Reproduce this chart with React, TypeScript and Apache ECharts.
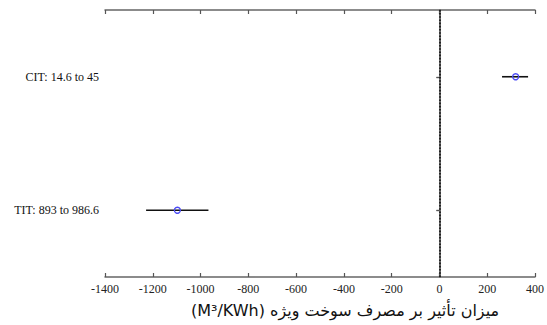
import React, { useEffect, useRef } from "react";
import * as echarts from "echarts";

const categories = ["TIT: 893 to 986.6", "CIT: 14.6 to 45"];
const effectValues = [-1097, 319];
const lowValues = [-1228, 262];
const highValues = [-967, 371];
const xMin = -1400;
const xMax = 400;
const xStep = 200;
const axisTitle = "میزان تأثیر بر مصرف سوخت ویژه (M³/KWh)";

export default function App() {
  const ref = useRef<HTMLDivElement>(null);
  useEffect(() => {
    if (!ref.current) return;
    const chart = echarts.init(ref.current, null, { renderer: "svg" });
    const serif = "Liberation Serif";
    const axisLine = { show: true, lineStyle: { color: "#666", width: 1.5 } };
    chart.setOption({
      animation: false,
      backgroundColor: "#fff",
      grid: { left: 105, right: 12, top: 10, bottom: 48, containLabel: false },
      xAxis: [
        {
          type: "value",
          min: xMin,
          max: xMax,
          interval: xStep,
          position: "bottom",
          axisLine,
          axisTick: { show: true, inside: true, length: 4, lineStyle: { color: "#555", width: 1.2 } },
          splitLine: { show: false },
          axisLabel: { color: "#222", fontFamily: serif, fontSize: 12, margin: 6, formatter: (v: number) => String(v) },
          name: "\u202B" + axisTitle + "\u202C",
          nameLocation: "middle",
          nameGap: 25,
          nameTextStyle: { color: "#111", fontFamily: "DejaVu Sans", fontSize: 16, padding: [0, 0, 0, 50] },
        },
        {
          type: "value",
          min: xMin,
          max: xMax,
          interval: xStep,
          position: "top",
          axisLine,
          axisTick: { show: true, inside: true, length: 4, lineStyle: { color: "#555", width: 1.2 } },
          splitLine: { show: false },
          axisLabel: { show: false },
        },
      ],
      yAxis: [
        {
          type: "category",
          data: categories,
          position: "left",
          axisLine,
          axisTick: { show: true, alignWithLabel: true, length: 3, lineStyle: { color: "#555", width: 1.2 } },
          axisLabel: { color: "#111", fontFamily: serif, fontSize: 12, margin: 6 },
          splitLine: { show: false },
        },
        {
          type: "category",
          data: categories,
          position: "right",
          axisLine,
          axisTick: { show: true, inside: true, alignWithLabel: true, length: 3, lineStyle: { color: "#555", width: 1.2 } },
          axisLabel: { show: false },
          splitLine: { show: false },
        },
      ],
      series: [
        {
          type: "custom",
          xAxisIndex: 0,
          yAxisIndex: 0,
          data: categories.map((c, i) => [lowValues[i], highValues[i], i]),
          renderItem: (params: any, api: any) => {
            const lo = api.coord([api.value(0), api.value(2)]);
            const hi = api.coord([api.value(1), api.value(2)]);
            return {
              type: "line",
              shape: { x1: lo[0], y1: lo[1], x2: hi[0], y2: hi[1] },
              style: { stroke: "#111", lineWidth: 1.6 },
            };
          },
          z: 2,
        },
        {
          type: "scatter",
          xAxisIndex: 0,
          yAxisIndex: 0,
          data: categories.map((c, i) => [effectValues[i], i]),
          symbol: "circle",
          symbolSize: 6,
          itemStyle: { color: "rgba(255,255,255,0)", borderColor: "#4a4af5", borderWidth: 1.3, opacity: 1 },
          z: 3,
          markLine: {
            silent: true,
            symbol: "none",
            label: { show: false },
            lineStyle: { color: "#111", type: "dotted", width: 1.6 },
            data: [{ xAxis: 0 }],
          },
        },
      ],
    });
    return () => chart.dispose();
  }, []);
  return <div ref={ref} style={{ width: 547, height: 325, position: "absolute", left: 0, top: 0 }} />;
}
